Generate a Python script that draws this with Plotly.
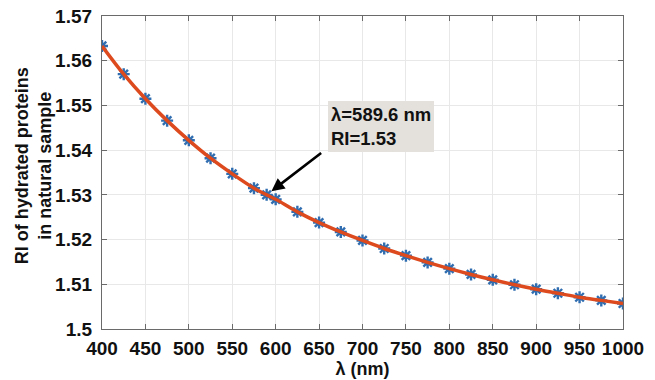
import plotly.graph_objects as go

wavelength_nm = [400, 425, 450, 475, 500, 525, 550, 575, 589.6, 600, 625, 650, 675, 700,
                 725, 750, 775, 800, 825, 850, 875, 900, 925, 950, 975, 1000]
ri_values = [1.5633, 1.5570, 1.5515, 1.5466, 1.5422, 1.5382, 1.5347, 1.5315, 1.5300, 1.5290,
             1.5262, 1.5238, 1.5217, 1.5198, 1.5180, 1.5164, 1.5149, 1.5135, 1.5122, 1.5110,
             1.5099, 1.5089, 1.5080, 1.5071, 1.5064, 1.5057]

x_tick_vals = [400, 450, 500, 550, 600, 650, 700, 750, 800, 850, 900, 950, 1000]
y_tick_vals = [1.5, 1.51, 1.52, 1.53, 1.54, 1.55, 1.56, 1.57]
y_tick_text = ["1.5", "1.51", "1.52", "1.53", "1.54", "1.55", "1.56", "1.57"]

marked_lambda = 589.6
marked_ri = 1.53

FONT = "Liberation Sans, Arial, sans-serif"

fig = go.Figure()
fig.add_trace(go.Scatter(
    x=wavelength_nm, y=ri_values, mode="markers",
    marker=dict(symbol="asterisk-open", size=10, color="#2F6DB0",
                line=dict(color="#2F6DB0", width=2.4)),
    showlegend=False, hoverinfo="skip"))
fig.add_trace(go.Scatter(
    x=wavelength_nm, y=ri_values, mode="lines",
    line=dict(color="#DC4A1E", width=3.5, shape="spline"),
    showlegend=False))

axis_common = dict(
    showline=True, linecolor="#6A6A6A", linewidth=1.2, mirror="ticks",
    ticks="inside", ticklen=5, tickcolor="#6A6A6A", tickwidth=1,
    showgrid=True, gridcolor="#E8E8E8", gridwidth=1, zeroline=False,
    automargin=False,
    tickfont=dict(family=FONT, size=19, color="#111111", weight="bold"),
)

fig.update_layout(
    width=655, height=380,
    margin=dict(l=102, r=32, t=16, b=51),
    paper_bgcolor="white", plot_bgcolor="white",
    font=dict(family=FONT, color="#111111"),
    xaxis=dict(range=[400, 1000], tickvals=x_tick_vals, ticklabelstandoff=2,
               title=dict(text="<b>λ (nm)</b>", font=dict(family=FONT, size=18), standoff=4),
               **axis_common),
    yaxis=dict(range=[1.5, 1.57], tickvals=y_tick_vals, ticktext=y_tick_text,
               ticklabelstandoff=5, **axis_common),
)

# y-axis title as rotated annotation
fig.add_annotation(
    x=(33 - 102) / 521, y=0.52, xref="paper", yref="paper",
    xanchor="center", yanchor="middle", textangle=-90, showarrow=False,
    text="<b>RI of hydrated proteins<br>in natural sample</b>",
    font=dict(family=FONT, size=18, color="#111111"))

# arrow
fig.add_annotation(
    x=marked_lambda, y=marked_ri, xref="x", yref="y",
    ax=56, ay=-43, axref="pixel", ayref="pixel",
    text="", showarrow=True, arrowhead=2, arrowsize=1.0, arrowwidth=2.6,
    arrowcolor="#000000", standoff=6)

# label box
fig.add_annotation(
    x=marked_lambda, y=marked_ri, xref="x", yref="y",
    ax=114, ay=-68, axref="pixel", ayref="pixel",
    showarrow=True, arrowcolor="rgba(0,0,0,0)", arrowwidth=0.1,
    text="<b>λ=589.6 nm<br>RI=1.53</b>", align="left",
    font=dict(family=FONT, size=18.5, color="#111111"),
    bgcolor="#E4E1DC", borderpad=3, borderwidth=0)

fig.write_html("out.html", post_script="document.body.style.margin='0';",
               config={"displayModeBar": False})
